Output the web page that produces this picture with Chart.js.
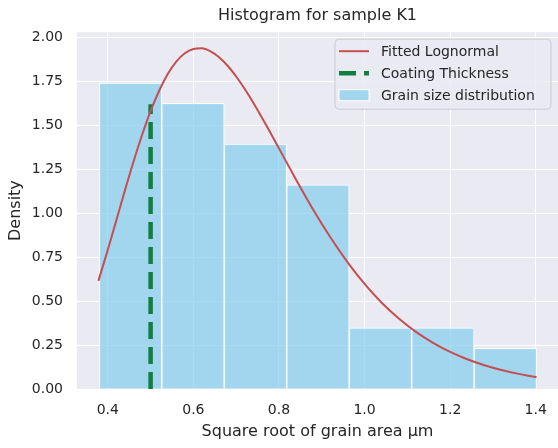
<!DOCTYPE html>
<html>
<head>
<meta charset="utf-8">
<script src="https://cdn.jsdelivr.net/npm/chart.js@4.4.1/dist/chart.umd.min.js"></script>
<style>
  html, body { margin: 0; padding: 0; background: #ffffff; }
  #wrap { width: 558px; height: 448px; }
</style>
</head>
<body>
<div id="wrap"><canvas id="c" width="558" height="448"></canvas></div>
<script>
// ---- data ----
const binCenters = [0.453, 0.599, 0.745, 0.891, 1.037, 1.183, 1.329];
const binDensity = [1.741, 1.625, 1.393, 1.161, 0.348, 0.348, 0.232];

const curveX = [0.378, 0.40, 0.42, 0.44, 0.46, 0.48, 0.50, 0.52, 0.54, 0.56, 0.58, 0.60, 0.62, 0.64, 0.66, 0.68, 0.70, 0.72, 0.74, 0.76, 0.78, 0.80, 0.84, 0.88, 0.92, 0.96, 1.00, 1.04, 1.08, 1.12, 1.16, 1.20, 1.24, 1.28, 1.32, 1.36, 1.40, 1.402];
const curveY = [0.615, 0.792, 0.960, 1.130, 1.293, 1.445, 1.581, 1.697, 1.792, 1.863, 1.910, 1.934, 1.938, 1.921, 1.888, 1.839, 1.778, 1.707, 1.629, 1.545, 1.458, 1.369, 1.191, 1.020, 0.863, 0.722, 0.598, 0.491, 0.401, 0.325, 0.263, 0.211, 0.169, 0.135, 0.108, 0.086, 0.068, 0.067];

const coatingX = [0.5, 0.5];
const coatingY = [0.0, 1.62];

const xTicks = [0.4, 0.6, 0.8, 1.0, 1.2, 1.4];
const yTicks = [0.0, 0.25, 0.5, 0.75, 1.0, 1.25, 1.5, 1.75, 2.0];

const seriesLabels = ['Fitted Lognormal', 'Coating Thickness', 'Grain size distribution'];
const titleText = 'Histogram for sample K1';
const xTitle = 'Square root of grain area µm';
const yTitle = 'Density';

// ---- chart ----
const FONT = "'DejaVu Sans', 'Liberation Sans', sans-serif";
const TEXT = '#262626';

const plotBg = {
  id: 'plotBg',
  beforeDraw(chart) {
    const { ctx, chartArea: a } = chart;
    ctx.save();
    ctx.fillStyle = '#EAEAF2';
    ctx.fillRect(a.left, a.top, a.right - a.left, a.bottom - a.top);
    ctx.restore();
  }
};

const boxLegend = {
  id: 'boxLegend',
  afterDraw(chart) {
    const { ctx, chartArea: a } = chart;
    const ds = chart.data.datasets;
    const x0 = a.right - 223, y0 = a.top + 7, w = 216, h = 70;
    ctx.save();
    const r = 4;
    ctx.beginPath();
    ctx.moveTo(x0 + r, y0);
    ctx.arcTo(x0 + w, y0, x0 + w, y0 + h, r);
    ctx.arcTo(x0 + w, y0 + h, x0, y0 + h, r);
    ctx.arcTo(x0, y0 + h, x0, y0, r);
    ctx.arcTo(x0, y0, x0 + w, y0, r);
    ctx.closePath();
    ctx.fillStyle = 'rgba(234,234,242,0.85)';
    ctx.fill();
    ctx.strokeStyle = '#CCCCCC';
    ctx.lineWidth = 1;
    ctx.stroke();

    const hx = x0 + 4, hw = 30, tx = x0 + 46;
    const rows = [y0 + 12, y0 + 34, y0 + 56];
    ctx.strokeStyle = ds[0].borderColor;
    ctx.lineWidth = ds[0].borderWidth;
    ctx.beginPath(); ctx.moveTo(hx, rows[0]); ctx.lineTo(hx + hw, rows[0]); ctx.stroke();
    ctx.strokeStyle = ds[1].borderColor;
    ctx.lineWidth = ds[1].borderWidth;
    ctx.setLineDash(ds[1].borderDash);
    ctx.beginPath(); ctx.moveTo(hx, rows[1]); ctx.lineTo(hx + hw, rows[1]); ctx.stroke();
    ctx.setLineDash([]);
    ctx.fillStyle = ds[2].backgroundColor;
    ctx.fillRect(hx, rows[2] - 5.5, hw, 11);
    ctx.strokeStyle = '#ffffff';
    ctx.lineWidth = 1;
    ctx.strokeRect(hx, rows[2] - 5.5, hw, 11);
    ctx.fillStyle = TEXT;
    ctx.font = '14px ' + FONT;
    ctx.textBaseline = 'middle';
    ctx.textAlign = 'left';
    for (let i = 0; i < 3; i++) ctx.fillText(ds[i].label, tx, rows[i] + 1);
    ctx.restore();
  }
};

new Chart(document.getElementById('c'), {
  type: 'bar',
  data: {
    datasets: [
      {
        type: 'line',
        label: seriesLabels[0],
        data: curveX.map((x, i) => ({ x: x, y: curveY[i] })),
        borderColor: '#C44E52',
        borderWidth: 2,
        pointRadius: 0,
        cubicInterpolationMode: 'monotone',
        fill: false
      },
      {
        type: 'line',
        label: seriesLabels[1],
        data: coatingX.map((x, i) => ({ x: x, y: coatingY[i] })),
        borderColor: '#117F3E',
        borderWidth: 4.5,
        borderDash: [17, 8],
        borderCapStyle: 'butt',
        pointRadius: 0,
        fill: false
      },
      {
        type: 'bar',
        label: seriesLabels[2],
        data: binCenters.map((x, i) => ({ x: x, y: binDensity[i] })),
        backgroundColor: 'rgba(135,206,235,0.72)',
        borderColor: '#ffffff',
        borderWidth: 1,
        barPercentage: 1,
        categoryPercentage: 1
      }
    ]
  },
  options: {
    responsive: false,
    devicePixelRatio: 1,
    animation: false,
    layout: { padding: { left: 0, right: 0, top: 0, bottom: 0 } },
    plugins: {
      legend: { display: false },
      tooltip: { enabled: false },
      title: {
        display: true,
        text: titleText,
        color: TEXT,
        fullSize: false,
        font: { family: FONT, size: 16, weight: 'normal' },
        padding: { top: 6, bottom: 7 }
      }
    },
    scales: {
      x: {
        type: 'linear',
        min: 0.328,
        max: 1.452,
        offset: false,
        afterFit(s) { s.height = 59; s.paddingLeft = 0; s.paddingRight = 0; },
        afterBuildTicks(s) { s.ticks = xTicks.map(v => ({ value: v })); },
        grid: { color: '#ffffff', lineWidth: 1, drawTicks: false, offset: false },
        border: { display: false },
        ticks: {
          color: TEXT,
          font: { family: FONT, size: 14 },
          padding: 13,
          maxRotation: 0,
          callback: v => v.toFixed(1)
        },
        title: {
          display: true,
          text: xTitle,
          color: TEXT,
          font: { family: FONT, size: 16 },
          padding: { top: 0, bottom: 7 }
        }
      },
      y: {
        type: 'linear',
        min: 0,
        max: 2.03,
        afterFit(s) { s.width = 77; s.paddingTop = 0; s.paddingBottom = 0; },
        afterBuildTicks(s) { s.ticks = yTicks.map(v => ({ value: v })); },
        grid: { color: '#ffffff', lineWidth: 1, drawTicks: false },
        border: { display: false },
        ticks: {
          color: TEXT,
          font: { family: FONT, size: 14 },
          padding: 14,
          callback: v => v.toFixed(2)
        },
        title: {
          display: true,
          text: yTitle,
          color: TEXT,
          font: { family: FONT, size: 16 },
          padding: { top: 6, bottom: 0 }
        }
      }
    }
  },
  plugins: [plotBg, boxLegend]
});
</script>
</body>
</html>
